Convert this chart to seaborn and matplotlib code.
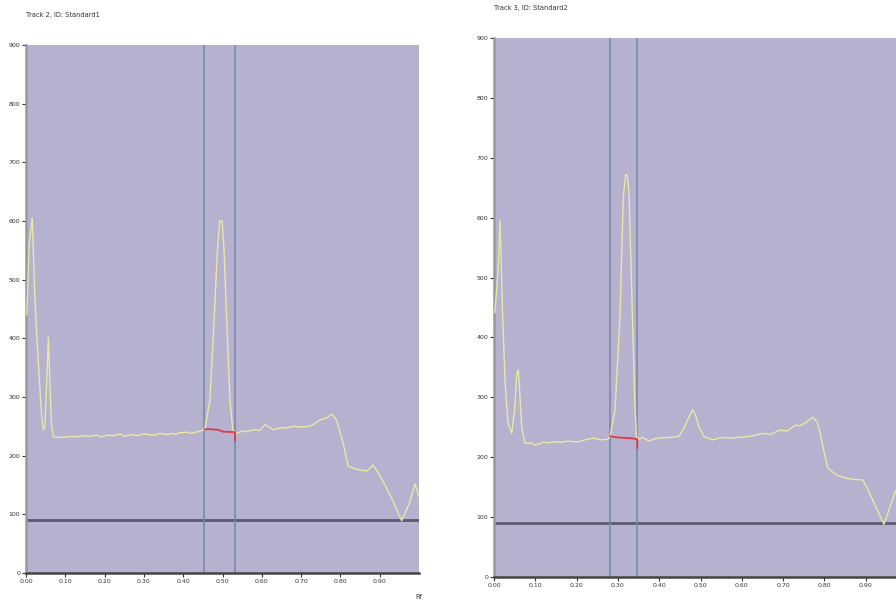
import numpy as np
import pandas as pd
import matplotlib
matplotlib.use("Agg")
import matplotlib.pyplot as plt
import seaborn as sns

# Track 2 densitogram (Rf, AU)
rf_t2 = [0.002, 0.008, 0.016, 0.022, 0.027, 0.034, 0.040, 0.044, 0.048, 0.053, 0.057, 0.061, 0.065,
         0.070, 0.074, 0.09, 0.10, 0.12, 0.13, 0.15, 0.16, 0.18, 0.19, 0.21, 0.22, 0.24, 0.25,
         0.27, 0.28, 0.30, 0.31, 0.33, 0.34, 0.36, 0.37, 0.38, 0.39, 0.41, 0.42, 0.44,
         0.455, 0.468, 0.477, 0.487, 0.493, 0.499, 0.504, 0.512, 0.519, 0.526, 0.532, 0.536,
         0.55, 0.56, 0.58, 0.595, 0.608, 0.62, 0.63, 0.65, 0.66, 0.68, 0.697, 0.722, 0.735,
         0.748, 0.765, 0.778, 0.79, 0.807, 0.82, 0.835, 0.845, 0.867, 0.883, 0.90, 0.93, 0.956,
         0.975, 0.99, 1.0]
au_t2 = [440, 560, 605, 480, 409, 329, 266, 244, 250, 330, 402, 320, 250,
         232, 232, 231, 232, 233, 232, 234, 233, 235, 232, 235, 234, 237, 233,
         236, 234, 237, 236, 235, 238, 236, 238, 236, 239, 240, 238, 241,
         245, 295, 409, 550, 600, 600, 550, 409, 295, 244, 240, 238,
         242, 241, 244, 243, 253, 248, 244, 248, 247, 250, 249, 250, 255,
         261, 264, 271, 261, 221, 182, 178, 176, 174, 184, 167, 128, 89,
         118, 152, 130]

# Track 3 densitogram
rf_t3 = [0.002, 0.010, 0.0145, 0.021, 0.027, 0.034, 0.043, 0.050, 0.055, 0.059, 0.063, 0.067, 0.075,
         0.078, 0.09, 0.10, 0.12, 0.13, 0.15, 0.16, 0.18, 0.19, 0.206, 0.22, 0.239, 0.26, 0.275,
         0.281, 0.293, 0.305, 0.313, 0.319, 0.323, 0.327, 0.333, 0.341, 0.345, 0.351, 0.36, 0.375,
         0.39, 0.40, 0.425, 0.448, 0.46, 0.473, 0.481, 0.489, 0.496, 0.509, 0.53, 0.55, 0.57, 0.61,
         0.63, 0.65, 0.67, 0.69, 0.71, 0.731, 0.74, 0.755, 0.772, 0.784, 0.808, 0.83, 0.852,
         0.87, 0.893, 0.908, 0.944, 0.973]
au_t3 = [441, 512, 596, 434, 324, 257, 240, 280, 340, 346, 300, 250, 223,
         223, 224, 220, 225, 224, 226, 225, 227, 226, 226, 229, 232, 229, 230,
         234, 279, 434, 635, 672, 670, 640, 490, 290, 234, 230, 233, 227,
         231, 232, 233, 235, 249, 268, 280, 268, 251, 234, 229, 233, 232, 234,
         236, 240, 238, 245, 244, 254, 252, 258, 267, 257, 182, 170, 165,
         163, 162, 142, 88, 145]

titles = ["Track 2, ID: Standard1", "Track 3, ID: Standard2"]
peak_bounds = [(0.453, 0.532), (0.280, 0.347)]
red_base = [([0.455, 0.47, 0.49, 0.50, 0.532, 0.532], [245, 245, 244, 241, 240, 225]),
            ([0.281, 0.30, 0.32, 0.33, 0.347, 0.347], [235, 233, 232, 232, 230, 215])]
threshold = 90
x_ticks = [0.0, 0.1, 0.2, 0.3, 0.4, 0.5, 0.6, 0.7, 0.8, 0.9]
y_ticks = [0, 100, 200, 300, 400, 500, 600, 700, 800, 900]

sns.set_style("white")
plt.rcParams["font.family"] = ["Liberation Sans Narrow", "DejaVu Sans"]

bg = "#b5b1cf"
curve_col = "#e9e7a6"
vline_col = "#7189a6"

fig = plt.figure(figsize=(8.96, 6.10), dpi=100)
positions = [[26 / 896, 37 / 610, 393 / 896, 528 / 610],
             [494 / 896, 33 / 610, 413 / 896, 539 / 610]]
tracks = [(rf_t2, au_t2), (rf_t3, au_t3)]

for i in range(2):
    ax = fig.add_axes(positions[i])
    ax.set_facecolor(bg)
    df = pd.DataFrame({"Rf": tracks[i][0], "AU": tracks[i][1]})
    sns.lineplot(data=df, x="Rf", y="AU", ax=ax, color=curve_col, lw=1.0, zorder=3)
    ax.axhline(threshold, color="#5c5a70", lw=2.0, zorder=2)
    for b in peak_bounds[i]:
        ax.axvline(b, color=vline_col, lw=1.1, zorder=2)
    ax.plot(red_base[i][0], red_base[i][1], color="#e23a48", lw=1.3, zorder=4)
    ax.set_xlim(0, 1.0)
    ax.set_ylim(0, 900)
    ax.set_xticks(x_ticks)
    ax.set_xticklabels([f"{t:.2f}" for t in x_ticks])
    ax.set_yticks(y_ticks)
    ax.tick_params(axis="both", labelsize=4.5, length=3, width=0.8, pad=1,
                   colors="#333333", direction="out", bottom=True, left=True)
    for s in ["top", "right"]:
        ax.spines[s].set_visible(False)
    ax.spines["left"].set_color("#999999")
    ax.spines["left"].set_linewidth(1.8)
    ax.spines["bottom"].set_color("#444444")
    ax.spines["bottom"].set_linewidth(1.8)
    ax.set_xlabel("")
    ax.set_ylabel("")
    ax.set_title(titles[i], fontsize=4.8, loc="left", pad=20, color="#333333")
    if i == 0:
        ax.text(0.99, -0.04, "Rf", transform=ax.transAxes, fontsize=4.8, color="#333333",
                ha="left", va="top")

fig.savefig("out.png", dpi=100)
